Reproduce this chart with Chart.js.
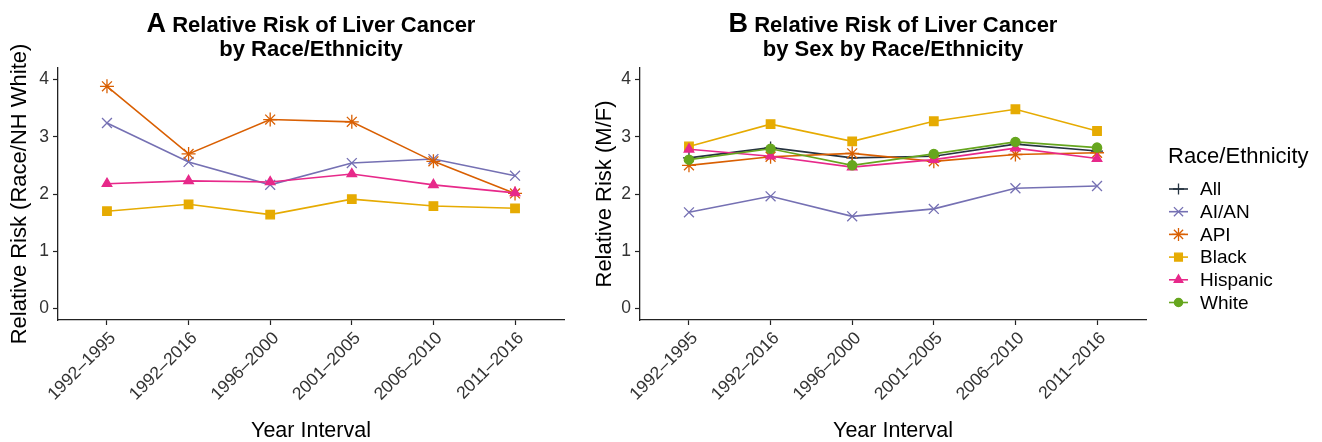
<!DOCTYPE html>
<html>
<head>
<meta charset="utf-8">
<script src="https://cdn.jsdelivr.net/npm/chart.js@4.4.0/dist/chart.umd.min.js"></script>
<style>
  body { margin: 0; background: #fff; }
  #wrap { position: relative; width: 1322px; height: 442px; }
  canvas { position: absolute; top: 0; }
</style>
</head>
<body>
<div id="wrap">
  <canvas id="chartA" width="590" height="442" style="left:0"></canvas>
  <canvas id="chartB" width="737" height="442" style="left:585px"></canvas>
</div>
<script>
const intervals = ["1992–1995", "1992–2016", "1996–2000", "2001–2005", "2006–2010", "2011–2016"];
const yTicks = [0, 1, 2, 3, 4];

// panel A: relative risk vs NH White
const aianA = [3.24, 2.56, 2.16, 2.54, 2.61, 2.32];
const apiA = [3.88, 2.70, 3.30, 3.26, 2.57, 2.01];
const blackA = [1.70, 1.82, 1.64, 1.91, 1.79, 1.75];
const hispanicA = [2.18, 2.23, 2.21, 2.35, 2.16, 2.02];

// panel B: male / female ratio
const allB = [2.63, 2.81, 2.63, 2.66, 2.87, 2.75];
const aianB = [1.68, 1.96, 1.61, 1.74, 2.10, 2.14];
const apiB = [2.50, 2.65, 2.71, 2.57, 2.69, 2.72];
const blackB = [2.83, 3.22, 2.92, 3.27, 3.48, 3.10];
const hispanicB = [2.78, 2.66, 2.47, 2.60, 2.80, 2.62];
const whiteB = [2.60, 2.79, 2.50, 2.70, 2.91, 2.81];

const FONT = "'Liberation Sans', Arial, Helvetica, sans-serif";
const AXIS = "#222";

const styles = {
  "All": { color: "#263340", pointStyle: "cross", radius: 6 },
  "AI/AN": { color: "#7570B3", pointStyle: "crossRot", radius: 7 },
  "API": { color: "#D95F02", pointStyle: "star", radius: 7 },
  "Black": { color: "#E6AB02", pointStyle: "rect", radius: 6 },
  "Hispanic": { color: "#E7298A", pointStyle: "triangle", radius: 5.5 },
  "White": { color: "#66A61E", pointStyle: "circle", radius: 4.6 },
};

function series(label, values, i, n) {
  const s = styles[label];
  return {
    label: label,
    data: values.map((v, k) => ({ x: k, y: v })),
    borderColor: s.color,
    backgroundColor: s.color,
    borderWidth: 1.6,
    pointStyle: s.pointStyle,
    pointRadius: s.radius,
    pointBorderWidth: 1.3,
    pointBackgroundColor: s.color,
    pointBorderColor: s.color,
    order: n - i, // later series on top, like ggplot
  };
}

const titlePlugin = {
  id: "panelTitle",
  afterDraw(chart, args, opts) {
    const ctx = chart.ctx;
    const cx = (chart.chartArea.left + chart.chartArea.right) / 2;
    ctx.save();
    ctx.fillStyle = "#000";
    ctx.textBaseline = "alphabetic";
    ctx.font = "bold 27px " + FONT;
    const wTag = ctx.measureText(opts.tag).width;
    ctx.font = "bold 22px " + FONT;
    const rest = " " + opts.line1;
    const wRest = ctx.measureText(rest).width;
    let x = cx - (wTag + wRest) / 2;
    ctx.textAlign = "left";
    ctx.font = "bold 27px " + FONT;
    ctx.fillText(opts.tag, x, 32);
    ctx.font = "bold 22px " + FONT;
    ctx.fillText(rest, x + wTag, 32);
    ctx.textAlign = "center";
    ctx.fillText(opts.line2, cx, 56);
    ctx.restore();
  },
};

const legendPlugin = {
  id: "sideLegend",
  afterDraw(chart, args, opts) {
    if (!opts.show) return;
    const ctx = chart.ctx;
    const x0 = opts.x;
    ctx.save();
    ctx.fillStyle = "#000";
    ctx.textBaseline = "middle";
    ctx.textAlign = "left";
    ctx.font = "22px " + FONT;
    ctx.fillText("Race/Ethnicity", x0, 157);
    ctx.font = "19px " + FONT;
    chart.data.datasets.forEach((ds, i) => {
      const y = 189 + i * 22.7;
      ctx.strokeStyle = ds.borderColor;
      ctx.lineWidth = 1.6;
      ctx.beginPath();
      ctx.moveTo(x0 + 1, y);
      ctx.lineTo(x0 + 20, y);
      ctx.stroke();
      ctx.fillStyle = ds.pointBackgroundColor;
      ctx.lineWidth = 1.3;
      Chart.helpers.drawPoint(ctx, { pointStyle: ds.pointStyle, radius: ds.pointRadius - 0.5, rotation: 0, borderWidth: 1.3 }, x0 + 10.5, y);
      ctx.fillStyle = "#000";
      ctx.fillText(ds.label, x0 + 32, y + 1);
    });
    ctx.restore();
  },
};

function makeOptions(yTitle, rightPad, tag, line1, line2, legend) {
  return {
    responsive: false,
    animation: false,
    layout: { padding: { top: 68, right: rightPad, bottom: 0, left: 0 } },
    plugins: {
      legend: { display: false },
      tooltip: { enabled: false },
      panelTitle: { tag: tag, line1: line1, line2: line2 },
      sideLegend: legend,
    },
    scales: {
      x: {
        type: "linear",
        min: -0.6,
        max: 5.6,
        afterBuildTicks: (s) => { s.ticks = intervals.map((_, k) => ({ value: k })); },
        afterFit: (s) => { s.height = 122; },
        ticks: {
          callback: (v) => intervals[v],
          minRotation: 45,
          maxRotation: 45,
          padding: 3,
          labelOffset: 6,
          color: "#333",
          font: { family: FONT, size: 17.5 },
        },
        grid: { drawOnChartArea: false, drawTicks: true, tickLength: 5, color: AXIS, tickWidth: 1.2 },
        border: { display: true, color: AXIS, width: 1.3 },
        title: {
          display: true,
          text: "Year Interval",
          color: "#000",
          font: { family: FONT, size: 21.5, lineHeight: 1 },
          padding: { top: 0, bottom: 0 },
        },
      },
      y: {
        min: -0.2,
        max: 4.2,
        afterBuildTicks: (s) => { s.ticks = yTicks.map((v) => ({ value: v })); },
        afterFit: (s) => { s.width = s.options.fitWidth; },
        fitWidth: 58,
        ticks: {
          padding: 4,
          color: "#333",
          font: { family: FONT, size: 17.5 },
        },
        grid: { drawOnChartArea: false, drawTicks: true, tickLength: 5, color: AXIS, tickWidth: 1.2 },
        border: { display: true, color: AXIS, width: 1.3 },
        title: {
          display: true,
          text: yTitle,
          color: "#000",
          font: { family: FONT, size: 22, lineHeight: 1 },
          padding: { top: 9, bottom: 0 },
        },
      },
    },
  };
}

const labelsA = ["AI/AN", "API", "Black", "Hispanic"];
const valuesA = [aianA, apiA, blackA, hispanicA];
const optsA = makeOptions("Relative Risk (Race/NH White)", 26, "A", "Relative Risk of Liver Cancer", "by Race/Ethnicity", { show: false });
new Chart(document.getElementById("chartA"), {
  type: "line",
  data: { datasets: labelsA.map((l, i) => series(l, valuesA[i], i, labelsA.length)) },
  options: optsA,
  plugins: [titlePlugin, legendPlugin],
});

const labelsB = ["All", "AI/AN", "API", "Black", "Hispanic", "White"];
const valuesB = [allB, aianB, apiB, blackB, hispanicB, whiteB];
const optsB = makeOptions("Relative Risk (M/F)", 176, "B", "Relative Risk of Liver Cancer", "by Sex by Race/Ethnicity", { show: true, x: 583 });
optsB.scales.y.fitWidth = 55;
new Chart(document.getElementById("chartB"), {
  type: "line",
  data: { datasets: labelsB.map((l, i) => series(l, valuesB[i], i, labelsB.length)) },
  options: optsB,
  plugins: [titlePlugin, legendPlugin],
});
</script>
</body>
</html>
